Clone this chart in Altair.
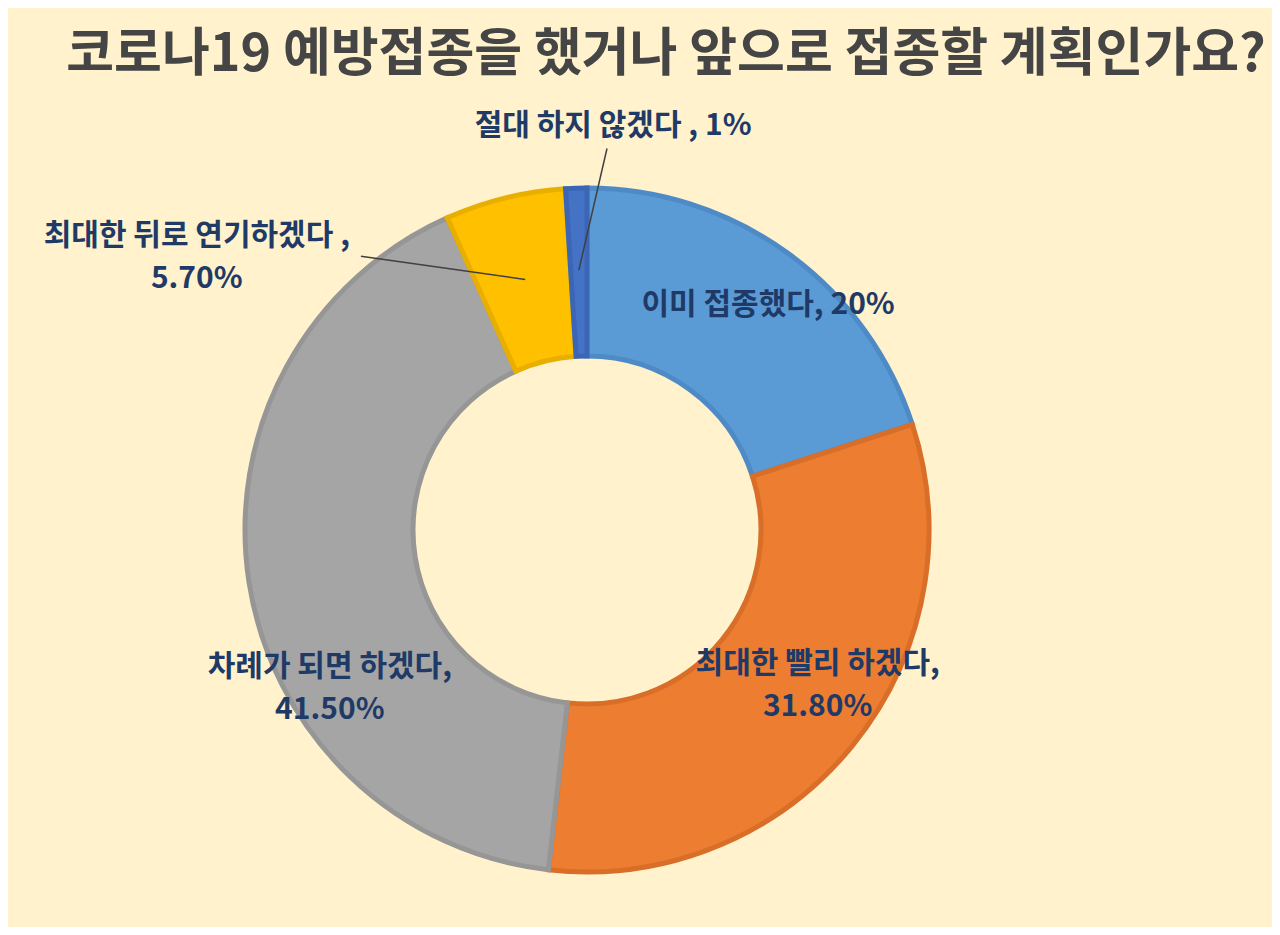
import math
import altair as alt
import pandas as pd

# ---- data ----
title_text = "코로나19 예방접종을 했거나 앞으로 접종할 계획인가요?"
categories = ["이미 접종했다", "최대한 빨리 하겠다", "차례가 되면 하겠다", "최대한 뒤로 연기하겠다", "절대 하지 않겠다"]
values = [20.0, 31.8, 41.5, 5.7, 1.0]
value_labels = ["20%", "31.80%", "41.50%", "5.70%", "1%"]
label_texts = [
    "이미 접종했다, 20%",
    "최대한 빨리 하겠다,\n31.80%",
    "차례가 되면 하겠다,\n41.50%",
    "최대한 뒤로 연기하겠다 ,\n5.70%",
    "절대 하지 않겠다 , 1%",
]

# ---- style / layout ----
fills = ["#5B9BD5", "#ED7D31", "#A5A5A5", "#FFC000", "#4472C4"]
strokes = ["#4E8BC6", "#D86E28", "#969696", "#E9AF00", "#3A66B5"]
W, H = 1264, 919
CX, CY = 579, 522
R_OUT, R_IN = 342, 174
LINE_H = 43
label_r = [289, 278, 302, 476, 405]
label_dtheta = [2.8, -5.3, -22.8, -41.2, 5.5]
leader_in_r = [None, None, None, 258, 260]
leader_out = [None, None, None, (355, -25.7), (382, 4.8)]

total = sum(values)
cum = 0.0
mids = []
for v in values:
    mids.append((cum + v / 2) / total * 360.0)
    cum += v


def polar(r, deg):
    a = math.radians(deg)
    return CX + r * math.sin(a), CY - r * math.cos(a)


arc_df = pd.DataFrame({"cat": categories, "value": values, "idx": list(range(len(values)))})

lab_rows = []
for i, t in enumerate(label_texts):
    x, y = polar(label_r[i], mids[i] + label_dtheta[i])
    n_lines = t.count("\n") + 1
    y -= (n_lines - 1) * LINE_H / 2.0
    lab_rows.append({"text": t, "x": x, "y": y})
lab_df = pd.DataFrame(lab_rows)

lead_rows = []
for i in range(len(values)):
    if leader_in_r[i] is None:
        continue
    x1, y1 = polar(leader_in_r[i], mids[i])
    r2, d2 = leader_out[i]
    x2, y2 = polar(r2, mids[i] + d2)
    lead_rows.append({"x": x2, "y": y2, "x2": x1, "y2": y1})
lead_df = pd.DataFrame(lead_rows)

title_df = pd.DataFrame({"text": [title_text], "x": [658], "y": [47]})

xs = alt.Scale(domain=[0, W], nice=False, zero=False)
ys = alt.Scale(domain=[0, H], nice=False, zero=False, reverse=True)

arcs = alt.Chart(arc_df).mark_arc(
    outerRadius=R_OUT, innerRadius=R_IN, strokeWidth=5, strokeJoin="miter"
).encode(
    theta=alt.Theta("value:Q", stack=True),
    order=alt.Order("idx:Q"),
    color=alt.Color("cat:N", scale=alt.Scale(domain=categories, range=fills), legend=None),
    stroke=alt.Stroke("cat:N", scale=alt.Scale(domain=categories, range=strokes), legend=None),
    x=alt.value(CX),
    y=alt.value(CY),
)

leaders = alt.Chart(lead_df).mark_rule(color="#404040", strokeWidth=1.5).encode(
    x=alt.X("x:Q", scale=xs, axis=None),
    y=alt.Y("y:Q", scale=ys, axis=None),
    x2="x2:Q",
    y2="y2:Q",
)

labels = alt.Chart(lab_df).mark_text(
    font="Noto Sans CJK KR", fontWeight="bold", fontSize=30, color="#1F3A66",
    align="center", baseline="middle", lineBreak="\n", lineHeight=LINE_H,
).encode(
    x=alt.X("x:Q", scale=xs, axis=None),
    y=alt.Y("y:Q", scale=ys, axis=None),
    text="text:N",
)

title = alt.Chart(title_df).mark_text(
    font="Noto Sans CJK KR", fontWeight="bold", fontSize=52, color="#454545",
    align="center", baseline="middle",
).encode(
    x=alt.X("x:Q", scale=xs, axis=None),
    y=alt.Y("y:Q", scale=ys, axis=None),
    text="text:N",
)

chart = alt.layer(arcs, leaders, labels, title).properties(
    width=W, height=H, background="#FFF2CC", padding=0, autosize="none"
).configure_view(stroke=None)

chart.save("out.html", embed_options={"renderer": "svg", "actions": False})
